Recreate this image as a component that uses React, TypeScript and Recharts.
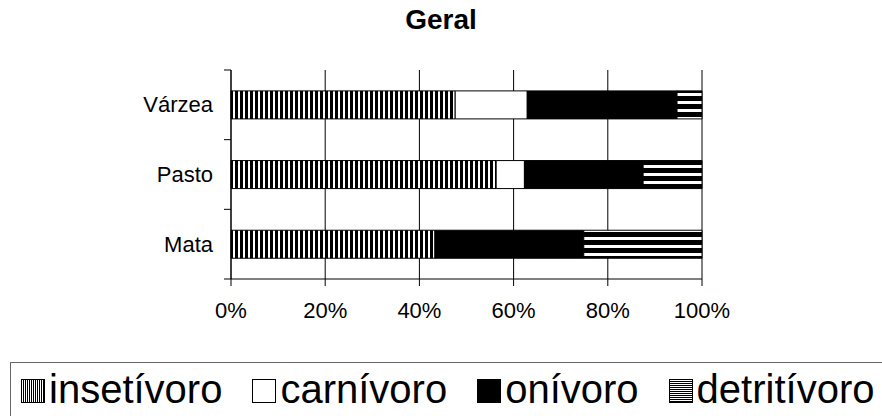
import { BarChart, Bar, XAxis, YAxis, CartesianGrid, Legend } from 'recharts';

const categories = ['Várzea', 'Pasto', 'Mata'];
const insetivoro = [47.6, 56.3, 43.3];
const carnivoro = [15.3, 6.0, 0];
const onivoro = [31.8, 25.2, 31.6];
const detritivoro = [5.3, 12.5, 25.1];
const xTicks = [0, 0.2, 0.4, 0.6, 0.8, 1];

const series = [
  { key: 'insetivoro', name: 'insetívoro', fill: 'url(#pV)', icon: 'url(#pVs)' },
  { key: 'carnivoro', name: 'carnívoro', fill: '#fff', icon: '#fff' },
  { key: 'onivoro', name: 'onívoro', fill: '#000', icon: '#000' },
  { key: 'detritivoro', name: 'detritívoro', fill: 'url(#pH)', icon: 'url(#pHs)' },
];

const data = categories.map((c, i) => ({
  cat: c,
  insetivoro: insetivoro[i],
  carnivoro: carnivoro[i],
  onivoro: onivoro[i],
  detritivoro: detritivoro[i],
}));

const W = 882;
const H = 416;
const PLOT_LEFT = 231;
const PLOT_RIGHT = 702;
const PLOT_TOP = 70;
const PLOT_BOTTOM = 279;
const Y_W = 100;
const X_H = 30;
const FONT = '"Liberation Sans", Arial, sans-serif';

const band = (PLOT_BOTTOM - PLOT_TOP) / categories.length;

function YTick(props: any) {
  const { y, payload, index } = props;
  return (
    <g>
      <line x1={PLOT_LEFT - 7} x2={PLOT_LEFT} y1={y - band / 2} y2={y - band / 2} stroke="#000" />
      {index === categories.length - 1 && (
        <line x1={PLOT_LEFT - 7} x2={PLOT_LEFT} y1={y + band / 2} y2={y + band / 2} stroke="#000" />
      )}
      <text
        x={PLOT_LEFT - 18}
        y={y}
        textAnchor="end"
        dominantBaseline="central"
        fontSize={22}
        fontFamily={FONT}
        fill="#000"
      >
        {payload.value}
      </text>
    </g>
  );
}

function renderLegend() {
  return (
    <div
      style={{
        boxSizing: 'border-box',
        width: 900,
        height: 80,
        border: '1px solid #666',
        display: 'flex',
        alignItems: 'flex-start',
        paddingLeft: 10,
        paddingTop: 6,
        fontFamily: FONT,
        fontSize: 40,
        lineHeight: '41px',
        color: '#000',
        whiteSpace: 'nowrap',
      }}
    >
      {series.map((s) => (
        <div key={s.key} style={{ display: 'flex', alignItems: 'flex-start', marginRight: 30 }}>
          <svg width={24} height={24} style={{ marginTop: 10, marginRight: 4, flex: 'none' }}>
            <rect x={0.5} y={0.5} width={23} height={23} fill={s.icon} stroke="#000" />
          </svg>
          <span>{s.name}</span>
        </div>
      ))}
    </div>
  );
}

export default function App() {
  return (
    <div
      style={{
        position: 'absolute',
        left: 0,
        top: 0,
        width: W,
        height: H,
        overflow: 'hidden',
        background: '#fff',
      }}
    >
      <svg width={0} height={0} style={{ position: 'absolute' }}>
        <defs>
          <pattern id="pV" width={5} height={10} patternUnits="userSpaceOnUse">
            <rect width={5} height={10} fill="#fff" />
            <rect width={3} height={10} fill="#000" />
          </pattern>
          <pattern id="pH" width={10} height={8} patternUnits="userSpaceOnUse">
            <rect width={10} height={8} fill="#fff" />
            <rect width={10} height={5} fill="#000" />
          </pattern>
          <pattern id="pVs" width={2} height={4} patternUnits="userSpaceOnUse">
            <rect width={2} height={4} fill="#fff" />
            <rect width={1} height={4} fill="#000" />
          </pattern>
          <pattern id="pHs" width={4} height={2} patternUnits="userSpaceOnUse">
            <rect width={4} height={2} fill="#fff" />
            <rect width={4} height={1} fill="#000" />
          </pattern>
        </defs>
      </svg>
      <div
        style={{
          position: 'absolute',
          left: 0,
          top: 6,
          width: W,
          textAlign: 'center',
          fontFamily: FONT,
          fontWeight: 'bold',
          fontSize: 28,
          lineHeight: '28px',
          zIndex: 2,
        }}
      >
        Geral
      </div>
      <BarChart
        width={W}
        height={H}
        layout="vertical"
        data={data}
        stackOffset="expand"
        barCategoryGap="30%"
        margin={{
          top: PLOT_TOP,
          right: W - PLOT_RIGHT,
          bottom: H - PLOT_BOTTOM - X_H,
          left: PLOT_LEFT - Y_W,
        }}
      >
        <CartesianGrid horizontal={false} vertical stroke="#000" />
        <XAxis
          type="number"
          domain={[0, 1]}
          ticks={xTicks}
          tickFormatter={(v: number) => `${Math.round(v * 100)}%`}
          stroke="#000"
          tickSize={7}
          tickMargin={16}
          height={X_H}
          tick={{ fontSize: 22, fontFamily: FONT, fill: '#000' }}
        />
        <YAxis
          type="category"
          dataKey="cat"
          width={Y_W}
          stroke="#000"
          tickLine={false}
          tick={YTick}
        />
        <Legend
          layout="horizontal"
          verticalAlign="middle"
          align="center"
          wrapperStyle={{ left: 10, top: 362, width: 900, height: 80 }}
          content={renderLegend}
        />
        {series.map((s) => (
          <Bar
            key={s.key}
            dataKey={s.key}
            name={s.name}
            stackId="a"
            fill={s.fill}
            stroke="#000"
            strokeWidth={1}
            isAnimationActive={false}
          />
        ))}
      </BarChart>
    </div>
  );
}
